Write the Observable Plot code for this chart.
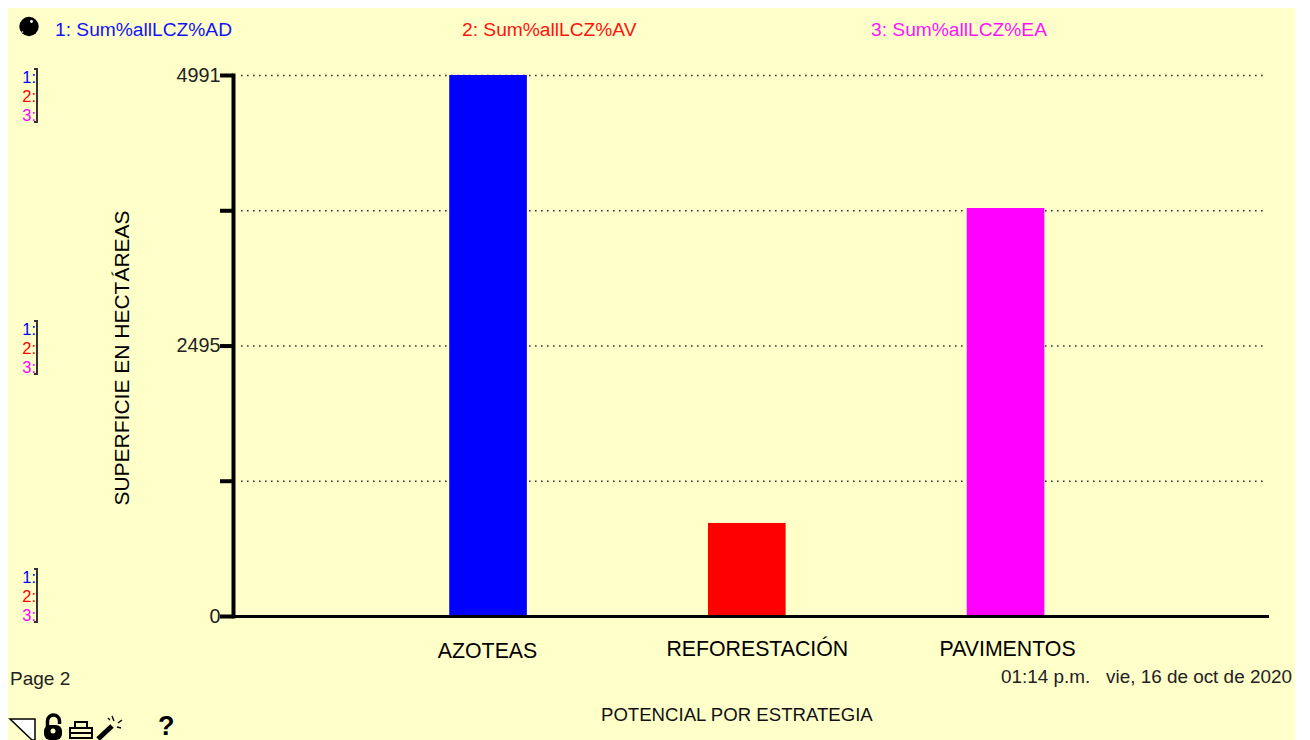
<!DOCTYPE html>
<html lang="es">
<head>
<meta charset="utf-8">
<script src="https://cdn.jsdelivr.net/npm/d3@7"></script>
<script src="https://cdn.jsdelivr.net/npm/@observablehq/plot@0.6"></script>
<style>
  html, body { margin: 0; padding: 0; background: #fff; }
  #page { position: relative; width: 1310px; height: 740px; overflow: hidden; font-family: "Liberation Sans", Arial, sans-serif; }
  #paper { position: absolute; left: 8px; top: 8px; width: 1287px; height: 732px; background: #ffffc9; }
  #chart { position: absolute; left: 0; top: 0; }
  #chart svg { display: block; background: transparent; }
  .t { position: absolute; white-space: nowrap; line-height: 1; }
  .ladder { position: absolute; left: 19px; width: 17px; height: 55px; border-right: 2px solid #333; font-size: 16.5px; line-height: 19px; text-align: right; }
  .ladder::before, .ladder::after { content: ""; position: absolute; right: -2px; width: 4px; border-top: 2px solid #333; }
  .ladder::before { top: 0; } .ladder::after { bottom: 0; }
  .ladder span { display: block; height: 19px; }
  svg.icons { position: absolute; left: 0; top: 700px; }
</style>
</head>
<body>
<div id="page">
  <div id="paper"></div>
  <div id="chart"></div>
</div>
<script>
const categories = ["AZOTEAS", "REFORESTACIÓN", "PAVIMENTOS"];
const seriesNames = ["1: Sum%allLCZ%AD", "2: Sum%allLCZ%AV", "3: Sum%allLCZ%EA"];
const seriesValues = [4991, 858, 3764];
const seriesColors = ["#0000ff", "#ff0000", "#ff00ff"];
const yTicks = [0, 1248, 2495, 3743, 4991];
const yLabels = [0, 2495, 4991];
const yTitle = "SUPERFICIE EN HECTÁREAS";
const xTitle = "POTENCIAL POR ESTRATEGIA";
const pageLabel = "Page 2";
const stamp = "01:14 p.m.   vie, 16 de oct de 2020";
const ladderNums = ["1:", "2:", "3:"];

const rows = categories.map((c, i) => ({ category: c, value: seriesValues[i], color: seriesColors[i] }));

const catAxis = (c, dx, dy) => Plot.axisX([c], {
  anchor: "bottom", tickSize: 0, tickPadding: 0, dx, dy,
  fontSize: 21.3, fill: "#000", label: null
});

const chart = Plot.plot({
  width: 1310, height: 740,
  marginTop: 75, marginBottom: 124, marginLeft: 233, marginRight: 43,
  style: { background: "transparent", fontFamily: "'Liberation Sans', Arial, sans-serif", overflow: "visible" },
  x: { type: "band", domain: categories, range: [268.1, 1225.5], padding: 0.7, round: false, axis: null },
  y: { domain: [0, 4991], axis: null },
  marks: [
    Plot.ruleY(yTicks, { y: d => d, stroke: "#333", strokeWidth: 1.6, strokeDasharray: "1.6 4.4", insetLeft: 8, insetRight: 0 }),
    Plot.barY(rows, { x: "category", y: "value", fill: "color" }),
    Plot.frame({ anchor: "left", stroke: "#000", strokeWidth: 4 }),
    Plot.frame({ anchor: "bottom", stroke: "#000", strokeWidth: 3 }),
    Plot.axisY(yTicks, {
      anchor: "left", tickSize: 13, tickPadding: 0, strokeWidth: 4, stroke: "#000",
      tickFormat: d => yLabels.includes(d) ? String(d) : "",
      fontSize: 19.8, fill: "#222", label: null
    }),
    catAxis(categories[0], -1, 26),
    catAxis(categories[1], 10, 24),
    catAxis(categories[2], 1.5, 24)
  ]
});
document.getElementById("chart").appendChild(chart);

const page = document.getElementById("page");
function addText(str, left, top, size, color, extra = "") {
  const el = document.createElement("div");
  el.className = "t";
  el.textContent = str;
  el.style.cssText = `left:${left}px;top:${top}px;font-size:${size}px;color:${color};${extra}`;
  page.appendChild(el);
}
[55, 462, 871].forEach((left, i) => addText(seriesNames[i], left, 20, 19.2, seriesColors[i], "opacity:.92;"));
addText(pageLabel, 10, 669, 19, "#222");
addText(stamp, 1001, 668, 18.9, "#222", "white-space:pre;");
addText(xTitle, 601, 706, 18.6, "#111");
addText(yTitle, 121, 358, 21, "#000", "transform:translate(-50%,-50%) rotate(-90deg);");

[68, 320, 568].forEach(top => {
  const l = document.createElement("div");
  l.className = "ladder";
  l.style.top = top + "px";
  ladderNums.forEach((n, i) => {
    const s = document.createElement("span");
    s.textContent = n;
    s.style.color = seriesColors[i];
    l.appendChild(s);
  });
  page.appendChild(l);
});

page.insertAdjacentHTML("beforeend", `
<svg class="icons" width="190" height="40" viewBox="0 700 190 40">
  <path d="M10 719 H35 V740 H32 Z" fill="#fff" stroke="#000" stroke-width="1.5"/>
  <path d="M47.5 727 V721 a6 6 0 0 1 12 0 V724" fill="none" stroke="#000" stroke-width="3.5"/>
  <rect x="44" y="725" width="18" height="15" rx="6" fill="#000"/>
  <circle cx="53" cy="731" r="2.5" fill="#ffffc9"/>
  <path d="M70 728 H92 V738 H70 Z M70 733 H92 M75 727 V722 H87 V727" fill="none" stroke="#000" stroke-width="2"/>
  <path d="M98 739 L112 726" stroke="#000" stroke-width="5"/>
  <path d="M114 721 L112 716 M118 723 L122 720 M117 727 L121 728 M110 720 L108 718" stroke="#000" stroke-width="1.4"/>
</svg>`);
addText("?", 158, 713, 27, "#000", "font-weight:bold;");

const bomb = `<svg style="position:absolute;left:18px;top:16px" width="22" height="22">
  <circle cx="11" cy="10.5" r="9.7" fill="#000"/><circle cx="13.5" cy="5.5" r="1.4" fill="#fff"/>
  <circle cx="4.5" cy="16" r=".8" fill="#fff"/></svg>`;
page.insertAdjacentHTML("beforeend", bomb);
</script>
</body>
</html>
